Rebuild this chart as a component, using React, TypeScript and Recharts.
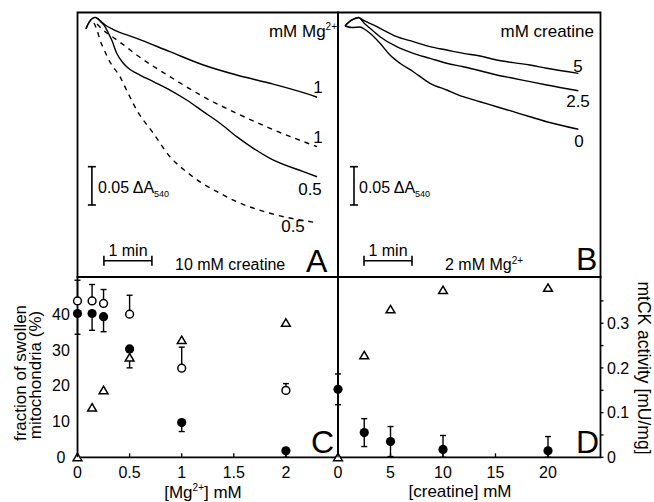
import React from 'react';
import {
  ComposedChart,
  Line,
  Scatter,
  XAxis,
  YAxis,
  ReferenceArea,
  ReferenceLine,
  ErrorBar,
} from 'recharts';

const FONT = '"Liberation Sans", Arial, Helvetica, sans-serif';
const W = 654;
const H = 502;

// ---------- Panel A: light-scattering traces, 10 mM creatine (t in s, A = A540 above panel floor)
const hookA: [number, number][] = [
  [10.6, 0.324], [13.1, 0.33], [16.9, 0.336], [21.9, 0.339], [25.6, 0.337],
];
const aSolidMg1: [number, number][] = [
  [29.4, 0.3336], [35.6, 0.3283], [44.8, 0.3231], [74, 0.3116], [115.6, 0.2941],
  [157.3, 0.2768], [199, 0.2637], [240.6, 0.2529], [282.3, 0.2406], [299.4, 0.2346],
];
const aSolidMg05: [number, number][] = [
  [29.4, 0.3329], [34.4, 0.3268], [38.5, 0.3185], [42.8, 0.3094], [49, 0.292],
  [57.3, 0.279], [65.6, 0.2709], [74, 0.2659], [94.8, 0.255], [115.6, 0.2441],
  [136.5, 0.2311], [157.3, 0.2158], [178.1, 0.2007], [199, 0.1832], [219.8, 0.168],
  [240.6, 0.155], [282.3, 0.1375], [299.4, 0.1309],
];
const aDashedMg1: [number, number][] = [
  [24.4, 0.3303], [31.9, 0.3225], [44.8, 0.3127], [59.4, 0.3016], [74, 0.2898],
  [115.6, 0.2615], [157.3, 0.2354], [199, 0.2137], [240.6, 0.1941], [299.4, 0.1701],
];
const aDashedMg05: [number, number][] = [
  [20.6, 0.3316], [24.4, 0.3225], [28.1, 0.3094], [32.3, 0.299], [40.6, 0.2807],
  [53.1, 0.2615], [63.1, 0.2402], [74, 0.218], [94.8, 0.1876], [115.6, 0.157],
  [136.5, 0.1371], [157.3, 0.1214], [178.1, 0.1093], [199, 0.0983], [240.6, 0.0832],
  [299.4, 0.0709],
];

// ---------- Panel B: traces, 2 mM Mg2+
const bCreatine5: [number, number][] = [
  [8.75, 0.3277], [13.75, 0.3329], [18.75, 0.3362], [25.4, 0.3388], [31.6, 0.3355],
  [52.5, 0.3247], [73.4, 0.3137], [94.1, 0.3072], [115, 0.3007], [135.9, 0.2963],
  [156.6, 0.292], [177.5, 0.2885], [198.4, 0.2833], [219.1, 0.2798], [240, 0.2768],
  [260.9, 0.2725], [300.4, 0.2659],
];
const bCreatine25: [number, number][] = [
  [8.75, 0.3277], [13.75, 0.3329], [18.75, 0.3362], [25.4, 0.3388], [33.75, 0.3303],
  [40, 0.3247], [52.5, 0.3137], [73.4, 0.3006], [94.1, 0.292], [115, 0.2855],
  [135.9, 0.279], [156.6, 0.2745], [177.5, 0.2693], [198.4, 0.2637], [219.1, 0.2594],
  [240, 0.255], [260.9, 0.2507], [300.4, 0.2432],
];
const bCreatine0: [number, number][] = [
  [8.75, 0.3277], [17.5, 0.3257], [27.5, 0.3264], [33.75, 0.3231], [40, 0.3181],
  [52.5, 0.3051], [65, 0.2898], [77.5, 0.279], [94.1, 0.268], [115, 0.2529],
  [135.9, 0.2441], [156.6, 0.2354], [177.5, 0.2288], [198.4, 0.2223], [219.1, 0.2158],
  [240, 0.2092], [260.9, 0.2027], [300.4, 0.1928],
];

// scale bars (t in s, A in absorbance units)
const absBarA = { t: 18, lo: 0.094, hi: 0.144 };
const minBarA = { t0: 33, t1: 93, a: 0.0213 };
const absBarB = { t: 20, lo: 0.094, hi: 0.144 };
const minBarB = { t0: 32.5, t1: 92.5, a: 0.0213 };

// ---------- Panel C: vs [Mg2+]
const mgConc = [0, 0.14, 0.25, 0.5, 1, 2];
const swollenFilledC = [40.2, 40.2, 39.3, 30.3, 9.7, 1.8];
const swollenFilledErrC = [5.8, 4.7, 4.2, 5.3, 2.5, 2.0];
const swollenOpenC = [43.7, 43.7, 43.0, 40.0, 24.9, 18.7];
const swollenOpenErrC = [5.8, 4.6, 3.9, 5.3, 5.9, 1.9];
const mtckC = [0, 0.111, 0.15, 0.223, 0.262, 0.301];

// ---------- Panel D: vs [creatine]
const creatineConc = [0, 2.5, 5, 10, 20];
const swollenD = [19.0, 6.9, 4.4, 2.2, 1.8];
const swollenErrD = [4.3, 3.9, 4.2, 3.9, 4.0];
const mtckD = [0, 0.228, 0.331, 0.374, 0.379];

const tickC = [0, 0.5, 1, 1.5, 2];
const tickD = [0, 5, 10, 15, 20];
const tickLeft = [0, 10, 20, 30, 40];
const tickRight = [0, 0.05, 0.1, 0.15, 0.2, 0.25, 0.3, 0.35];

const toTrace = (arr: [number, number][]) => arr.map(([t, a]) => ({ t, a }));

const DOM_T_A = 325.6;
const DOM_T_B = 328.1;
const DOM_ABS = 0.3453;
const DOM_C = 2.5;
const DOM_D = 25;
const DOM_PCT = 50.4;
const DOM_CK = 0.4034;

const FilledDot = (p: any) => <circle cx={p.cx} cy={p.cy} r={4.6} fill="#000" />;
const OpenDot = (p: any) => (
  <circle cx={p.cx} cy={p.cy} r={3.9} fill="#fff" stroke="#000" strokeWidth={1.5} />
);
const Tri = (p: any) => (
  <path
    d={`M${p.cx},${p.cy - 4} L${p.cx + 4.4},${p.cy + 3.4} L${p.cx - 4.4},${p.cy + 3.4} Z`}
    fill="#fff"
    stroke="#000"
    strokeWidth={1.5}
    strokeLinejoin="miter"
  />
);

function BottomTick(props: any) {
  const { x, y, payload } = props;
  return (
    <g>
      <line x1={x} x2={x} y1={y} y2={y - 4} stroke="#000" strokeWidth={1.3} />
      <text x={x} y={y + 21} textAnchor="middle" fontSize={16} fontFamily={FONT} fill="#000">
        {String(payload.value)}
      </text>
    </g>
  );
}

function LeftTick(props: any) {
  const { x, y, payload } = props;
  return (
    <text x={x - 16.5} y={y + 5.7} textAnchor="middle" fontSize={16} fontFamily={FONT} fill="#000">
      {String(payload.value)}
    </text>
  );
}

const fmtRight = (v: number) => {
  const h = Math.round(v * 100);
  if (h % 10 !== 0) return '';
  return String(h / 100);
};

const frameProps = { fill: 'none', stroke: '#000', strokeWidth: 1.8, ifOverflow: 'visible' as const };
const barProps = { stroke: '#000', strokeWidth: 1.6, ifOverflow: 'visible' as const };
const traceProps = {
  stroke: '#000',
  strokeWidth: 1.4,
  dot: false,
  isAnimationActive: false,
  type: 'monotone' as const,
  dataKey: 'a',
};

function PanelTraces(props: {
  left: number;
  right: number;
  domT: number;
  lines: { data: [number, number][]; dashed: boolean }[];
  abs: { t: number; lo: number; hi: number };
  min: { t0: number; t1: number; a: number };
}) {
  const { left, right, domT, lines, abs, min } = props;
  return (
    <div style={{ position: 'absolute', left: 0, top: 0 }}>
      <ComposedChart
        width={W}
        height={H}
        margin={{ top: 12.5, left, right: W - right, bottom: H - 277 }}
      >
        <XAxis type="number" dataKey="t" domain={[0, domT]} hide />
        <YAxis type="number" domain={[0, DOM_ABS]} hide />
        <ReferenceArea x1={0} x2={domT} y1={0} y2={DOM_ABS} {...frameProps} />
        {lines.map((l, i) => (
          <Line
            key={i}
            data={toTrace(l.data)}
            {...traceProps}
            strokeDasharray={l.dashed ? '5 5' : undefined}
          />
        ))}
        <ReferenceLine segment={[{ x: abs.t, y: abs.lo }, { x: abs.t, y: abs.hi }]} {...barProps} />
        <ReferenceLine segment={[{ x: abs.t - 5, y: abs.lo }, { x: abs.t + 5, y: abs.lo }]} {...barProps} />
        <ReferenceLine segment={[{ x: abs.t - 5, y: abs.hi }, { x: abs.t + 5, y: abs.hi }]} {...barProps} />
        <ReferenceLine segment={[{ x: min.t0, y: min.a }, { x: min.t1, y: min.a }]} {...barProps} />
        <ReferenceLine segment={[{ x: min.t0, y: min.a - 0.0066 }, { x: min.t0, y: min.a + 0.0066 }]} {...barProps} />
        <ReferenceLine segment={[{ x: min.t1, y: min.a - 0.0066 }, { x: min.t1, y: min.a + 0.0066 }]} {...barProps} />
      </ComposedChart>
    </div>
  );
}

// lower error arms stop at the axis (0 %)
const dataFilledC = mgConc.map((x, i) => ({
  x,
  y: swollenFilledC[i],
  e: [Math.min(swollenFilledErrC[i], swollenFilledC[i]), 0],
}));
const dataOpenC = mgConc.map((x, i) => ({ x, y: swollenOpenC[i], e: [0, swollenOpenErrC[i]] }));
const dataTriC = mgConc.map((x, i) => ({ x, y: mtckC[i] }));
const dataFilledD = creatineConc.map((x, i) => ({
  x,
  y: swollenD[i],
  e: [Math.min(swollenErrD[i], swollenD[i]), swollenErrD[i]],
}));
const dataTriD = creatineConc.map((x, i) => ({ x, y: mtckD[i] }));

function PanelC() {
  return (
    <div style={{ position: 'absolute', left: 0, top: 0 }}>
      <ComposedChart width={W} height={H} margin={{ top: 277, left: 37.5, right: W - 338, bottom: 14.7 }}>
        <XAxis
          type="number"
          dataKey="x"
          domain={[0, DOM_C]}
          ticks={tickC}
          interval={0}
          height={30}
          tickSize={0}
          tickMargin={0}
          axisLine={false}
          tickLine={false}
          tick={<BottomTick />}
        />
        <YAxis
          yAxisId="left"
          type="number"
          dataKey="y"
          domain={[0, DOM_PCT]}
          ticks={tickLeft}
          interval={0}
          width={40}
          tickSize={0}
          tickMargin={0}
          axisLine={false}
          tickLine={false}
          tick={<LeftTick />}
        />
        <YAxis yAxisId="right" orientation="right" type="number" dataKey="y" domain={[0, DOM_CK]} hide />
        <ReferenceArea yAxisId="left" x1={0} x2={DOM_C} y1={0} y2={DOM_PCT} {...frameProps} />
        <Scatter yAxisId="right" data={dataTriC} shape={Tri} isAnimationActive={false} />
        <Scatter yAxisId="left" data={dataOpenC} shape={OpenDot} isAnimationActive={false}>
          <ErrorBar dataKey="e" direction="y" width={3} stroke="#000" strokeWidth={1.4} />
        </Scatter>
        <Scatter yAxisId="left" data={dataFilledC} shape={FilledDot} isAnimationActive={false}>
          <ErrorBar dataKey="e" direction="y" width={3} stroke="#000" strokeWidth={1.4} />
        </Scatter>
      </ComposedChart>
    </div>
  );
}

function PanelD() {
  return (
    <div style={{ position: 'absolute', left: 0, top: 0 }}>
      <ComposedChart width={W} height={H} margin={{ top: 277, left: 338, right: 13.5, bottom: 14.7 }}>
        <XAxis
          type="number"
          dataKey="x"
          domain={[0, DOM_D]}
          ticks={tickD}
          interval={0}
          height={30}
          tickSize={0}
          tickMargin={0}
          axisLine={false}
          tickLine={false}
          tick={<BottomTick />}
        />
        <YAxis yAxisId="left" type="number" dataKey="y" domain={[0, DOM_PCT]} hide />
        <YAxis
          yAxisId="right"
          orientation="right"
          type="number"
          dataKey="y"
          domain={[0, DOM_CK]}
          ticks={tickRight}
          interval={0}
          width={40}
          tickSize={3}
          tickMargin={3.5}
          axisLine={false}
          tickLine={{ stroke: '#000', strokeWidth: 1.3 }}
          tick={{ fill: '#000', fontSize: 16, fontFamily: FONT }}
          tickFormatter={fmtRight}
        />
        <ReferenceArea yAxisId="left" x1={0} x2={DOM_D} y1={0} y2={DOM_PCT} {...frameProps} />
        <Scatter yAxisId="right" data={dataTriD} shape={Tri} isAnimationActive={false} />
        <Scatter yAxisId="left" data={dataFilledD} shape={FilledDot} isAnimationActive={false}>
          <ErrorBar dataKey="e" direction="y" width={3} stroke="#000" strokeWidth={1.4} />
        </Scatter>
      </ComposedChart>
    </div>
  );
}

function Overlay() {
  const t = { fontFamily: FONT, fill: '#000' };
  return (
    <svg
      width={W}
      height={H}
      style={{ position: 'absolute', left: 0, top: 0, pointerEvents: 'none' }}
    >
      {/* panel A */}
      <text {...t} x={337} y={37} textAnchor="end" fontSize={17}>
        mM Mg<tspan fontSize={10} dy={-7}>2+</tspan>
      </text>
      <text {...t} x={318} y={93} textAnchor="middle" fontSize={17}>1</text>
      <text {...t} x={318} y={143} textAnchor="middle" fontSize={17}>1</text>
      <text {...t} x={310} y={195} textAnchor="middle" fontSize={17}>0.5</text>
      <text {...t} x={293} y={232} textAnchor="middle" fontSize={17}>0.5</text>
      <text {...t} x={98} y={193} fontSize={16}>
        0.05 ΔA<tspan fontSize={9} dy={4}>540</tspan>
      </text>
      <text {...t} x={128} y={256} textAnchor="middle" fontSize={16}>1 min</text>
      <text {...t} x={175} y={270} fontSize={16}>10 mM creatine</text>
      <text {...t} x={306} y={272} fontSize={32}>A</text>

      {/* panel B */}
      <text {...t} x={594} y={37} textAnchor="end" fontSize={17}>mM creatine</text>
      <text {...t} x={578} y={72} textAnchor="middle" fontSize={17}>5</text>
      <text {...t} x={578} y={107} textAnchor="middle" fontSize={17}>2.5</text>
      <text {...t} x={579} y={147} textAnchor="middle" fontSize={17}>0</text>
      <text {...t} x={359} y={193} fontSize={16}>
        0.05 ΔA<tspan fontSize={9} dy={4}>540</tspan>
      </text>
      <text {...t} x={388} y={256} textAnchor="middle" fontSize={16}>1 min</text>
      <text {...t} x={445} y={270} fontSize={16}>
        2 mM Mg<tspan fontSize={10} dy={-6}>2+</tspan>
      </text>
      <text {...t} x={576} y={270} fontSize={32}>B</text>

      {/* panel C / D letters */}
      <text {...t} x={311} y={453} fontSize={32}>C</text>
      <text {...t} x={576} y={453} fontSize={32}>D</text>

      {/* axis titles */}
      <text {...t} transform="translate(25.5,373) rotate(-90)" textAnchor="middle" fontSize={17}>
        fraction of swollen
      </text>
      <text {...t} transform="translate(40.5,375) rotate(-90)" textAnchor="middle" fontSize={17}>
        mitochondria (%)
      </text>
      <text {...t} x={203} y={498} textAnchor="middle" fontSize={17}>
        [Mg<tspan fontSize={10} dy={-7}>2+</tspan>
        <tspan dy={7}>] mM</tspan>
      </text>
      <text {...t} x={460} y={497} textAnchor="middle" fontSize={17}>[creatine] mM</text>
      <text {...t} transform="translate(637.5,368) rotate(90)" textAnchor="middle" fontSize={17.5}>
        mtCK activity [mU/mg]
      </text>
    </svg>
  );
}

export default function App() {
  return (
    <div
      style={{
        position: 'absolute',
        left: 0,
        top: 0,
        width: W,
        height: H,
        background: '#fff',
        overflow: 'hidden',
      }}
    >
      <PanelTraces
        left={77.5}
        right={338}
        domT={DOM_T_A}
        lines={[
          { data: [...hookA, ...aSolidMg1], dashed: false },
          { data: aDashedMg1, dashed: true },
          { data: [...hookA, ...aSolidMg05], dashed: false },
          { data: aDashedMg05, dashed: true },
        ]}
        abs={absBarA}
        min={minBarA}
      />
      <PanelTraces
        left={338}
        right={600.5}
        domT={DOM_T_B}
        lines={[
          { data: bCreatine5, dashed: false },
          { data: bCreatine25, dashed: false },
          { data: bCreatine0, dashed: false },
        ]}
        abs={absBarB}
        min={minBarB}
      />
      <PanelC />
      <PanelD />
      <Overlay />
    </div>
  );
}
